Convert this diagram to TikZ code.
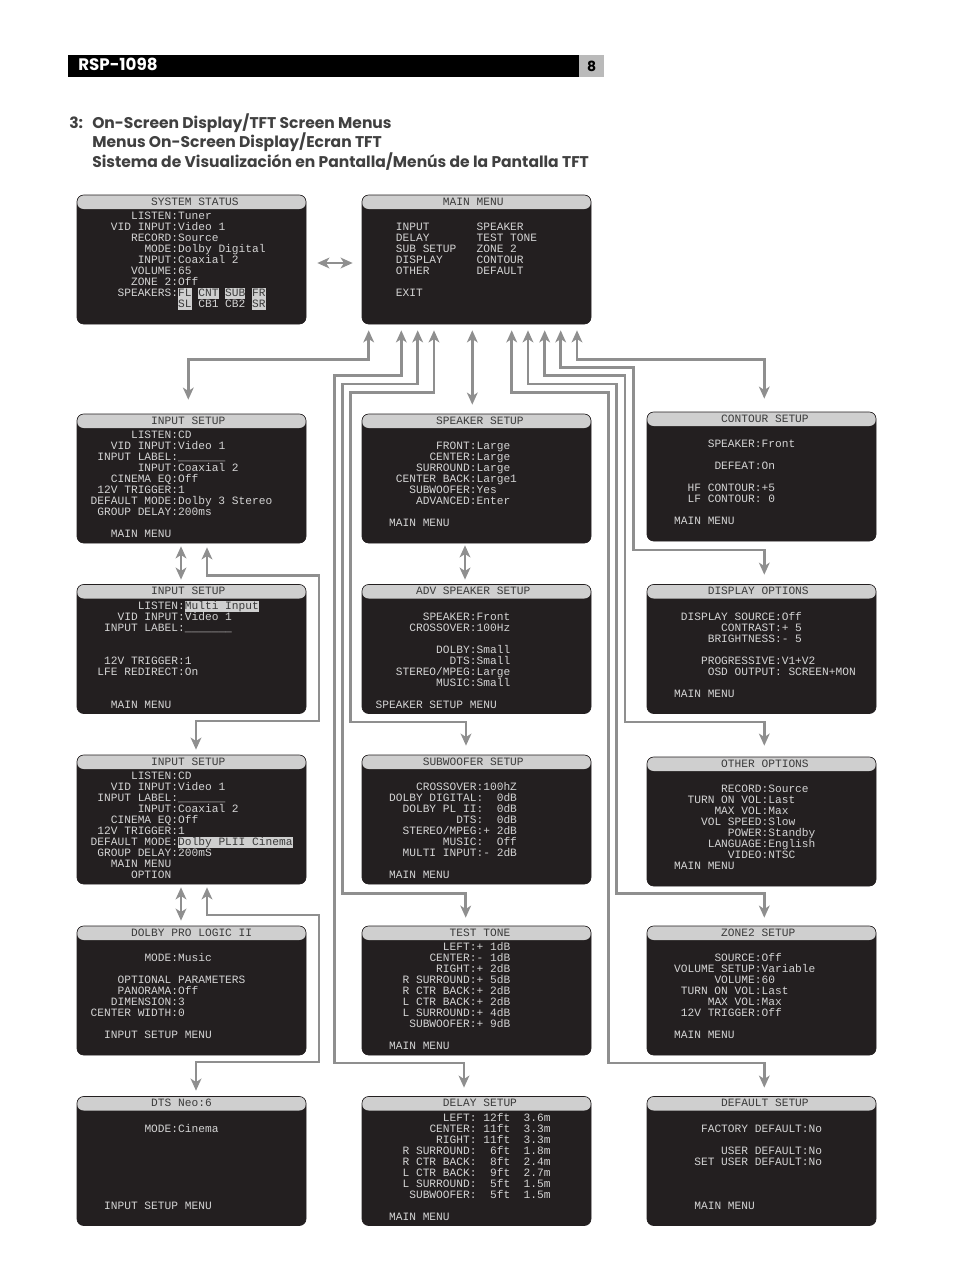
\documentclass[tikz,border=0pt]{standalone}
\usepackage{fontspec}
\usetikzlibrary{arrows.meta}
\newfontfamily\lcdfont{Liberation Mono}
\newfontfamily\headfont{Poppins}
\definecolor{menudark}{HTML}{231F20}
\definecolor{menuband}{HTML}{CFCFCF}
\definecolor{menutext}{HTML}{D4D4D4}
\definecolor{menuink}{HTML}{3A3A3A}
\definecolor{linkgrey}{HTML}{8F8F8F}
\definecolor{headgrey}{HTML}{404040}
\newcommand{\menumark}[1]{\smash{\setlength{\fboxsep}{0pt}\colorbox{menuband}{\color{menuink}\rule[-2pt]{0pt}{8.25pt}#1}}}
\newcommand{\menutop}{\rule{0pt}{6pt}}
\tikzset{
  menubox/.style={draw=menudark, line width=.5pt, fill=menudark, rounded corners=5pt, inner sep=0pt,
    minimum width=171.75pt, minimum height=96.75pt,
    path picture={\fill[menuband] (path picture bounding box.north west) rectangle ([yshift=-10.5pt]path picture bounding box.north east);}},
  menutitle/.style={anchor=west, inner sep=0pt, text=menuink, font=\lcdfont\fontsize{8.41}{8.25}\selectfont},
  menulines/.style={anchor=north west, inner sep=0pt, align=left, text=menutext,
    font=\lcdfont\fontsize{8.41}{8.25}\selectfont},
  menulink/.style={draw=linkgrey, line width=2pt, <->, >={Stealth[length=9pt,width=8pt,inset=2.5pt]}},
  headline/.style={anchor=west, inner sep=0pt, text=headgrey, font=\headfont\bfseries\fontsize{11.65}{12}\selectfont}
}
\begin{document}
\begin{tikzpicture}[x=.75pt, y=-.75pt]
\useasboundingbox (0,0) rectangle (954,1272);
%% Page header
	\node[fill=black, minimum width=383.25pt, minimum height=16.5pt, inner sep=0pt, anchor=north west] (headbar) at (68,55) {};
	\node[fill=menuband!90!black, minimum width=18.75pt, minimum height=16.5pt, inner sep=0pt, anchor=north west] (pagebox) at (579,55) {};
	\node[inner sep=0pt, anchor=west, text=white, font=\headfont\bfseries\fontsize{12.5}{14}\selectfont] (model) at (78,64.5) {RSP-1098};
	\node[inner sep=0pt, font=\headfont\bfseries\fontsize{10.5}{12}\selectfont] (pagenum) at (pagebox.center) {8};
	\node[headline] (headnum) at (69,123) {3:};
	\node[headline] (headen) at (92,123) {On-Screen Display/TFT Screen Menus};
	\node[headline] (headfr) at (92,142) {Menus On-Screen Display/Ecran TFT};
	\node[headline] (heades) at (92,162) {Sistema de Visualización en Pantalla/Menús de la Pantalla TFT};
%% Screens
	\node[menubox] (sysstatus) at (191.5,259.5) {};
	\node[menutitle] (sysstatustitle) at ([xshift=10.3pt,yshift=-5.25pt]sysstatus.north west) {~~~~~~~~~SYSTEM STATUS};
	\node[menulines] (sysstatuslines) at ([xshift=10.3pt,yshift=-12.5pt]sysstatus.north west) {\menutop
~~~~~~LISTEN:Tuner\\ ~~~VID INPUT:Video 1\\ ~~~~~~RECORD:Source\\ ~~~~~~~~MODE:Dolby Digital\\ ~~~~~~~INPUT:Coaxial 2\\ ~~~~~~VOLUME:65\\ ~~~~~~ZONE 2:Off\\ ~~~~SPEAKERS:\menumark{FL} \menumark{CNT} \menumark{SUB} \menumark{FR}\\ ~~~~~~~~~~~~~\menumark{SL} CB1 CB2 \menumark{SR}};

	\node[menubox] (mainmenu) at (476.5,259.5) {};
	\node[menutitle] (mainmenutitle) at ([xshift=10.3pt,yshift=-5.25pt]mainmenu.north west) {~~~~~~~~~~MAIN MENU};
	\node[menulines] (mainmenulines) at ([xshift=10.3pt,yshift=-12.5pt]mainmenu.north west) {\menutop
~\\ ~~~INPUT~~~~~~~SPEAKER\\ ~~~DELAY~~~~~~~TEST TONE\\ ~~~SUB SETUP~~~ZONE 2\\ ~~~DISPLAY~~~~~CONTOUR\\ ~~~OTHER~~~~~~~DEFAULT\\ ~\\ ~~~EXIT};

	\node[menubox] (inputa) at (191.5,478.5) {};
	\node[menutitle] (inputatitle) at ([xshift=10.3pt,yshift=-5.25pt]inputa.north west) {~~~~~~~~~INPUT SETUP};
	\node[menulines] (inputalines) at ([xshift=10.3pt,yshift=-12.5pt]inputa.north west) {\menutop
~~~~~~LISTEN:CD\\ ~~~VID INPUT:Video 1\\ ~INPUT LABEL:\_\_\_\_\_\_\_\\ ~~~~~~~INPUT:Coaxial 2\\ ~~~CINEMA EQ:Off\\ ~12V TRIGGER:1\\ DEFAULT MODE:Dolby 3 Stereo\\ ~GROUP DELAY:200ms\\ ~\\ ~~~MAIN MENU};

	\node[menubox] (inputb) at (191.5,649) {};
	\node[menutitle] (inputbtitle) at ([xshift=10.3pt,yshift=-5.25pt]inputb.north west) {~~~~~~~~~INPUT SETUP};
	\node[menulines] (inputblines) at ([xshift=10.3pt,yshift=-12.5pt]inputb.north west) {\menutop
~~~~~~~LISTEN:\menumark{Multi Input}\\ ~~~~VID INPUT:Video 1\\ ~~INPUT LABEL:\_\_\_\_\_\_\_\\ ~\\ ~\\ ~~12V TRIGGER:1\\ ~LFE REDIRECT:On\\ ~\\ ~\\ ~~~MAIN MENU};

	\node[menubox] (inputc) at (191.5,819.5) {};
	\node[menutitle] (inputctitle) at ([xshift=10.3pt,yshift=-5.25pt]inputc.north west) {~~~~~~~~~INPUT SETUP};
	\node[menulines] (inputclines) at ([xshift=10.3pt,yshift=-12.5pt]inputc.north west) {\menutop
~~~~~~LISTEN:CD\\ ~~~VID INPUT:Video 1\\ ~INPUT LABEL:\_\_\_\_\_\_\_\\ ~~~~~~~INPUT:Coaxial 2\\ ~~~CINEMA EQ:Off\\ ~12V TRIGGER:1\\ DEFAULT MODE:\menumark{Dolby PLII Cinema}\\ ~GROUP DELAY:200mS\\ ~~~MAIN MENU\\ ~~~~~~OPTION};

	\node[menubox] (dolby) at (191.5,990.5) {};
	\node[menutitle] (dolbytitle) at ([xshift=10.3pt,yshift=-5.25pt]dolby.north west) {~~~~~~DOLBY PRO LOGIC II};
	\node[menulines] (dolbylines) at ([xshift=10.3pt,yshift=-12.5pt]dolby.north west) {\menutop
~\\ ~~~~~~~~MODE:Music\\ ~\\ ~~~~OPTIONAL PARAMETERS\\ ~~~~PANORAMA:Off\\ ~~~DIMENSION:3\\ CENTER WIDTH:0\\ ~\\ ~~INPUT SETUP MENU};

	\node[menubox] (dtsneo) at (191.5,1161) {};
	\node[menutitle] (dtsneotitle) at ([xshift=10.3pt,yshift=-5.25pt]dtsneo.north west) {~~~~~~~~~DTS Neo:6};
	\node[menulines] (dtsneolines) at ([xshift=10.3pt,yshift=-12.5pt]dtsneo.north west) {\menutop
~\\ ~~~~~~~~MODE:Cinema\\ ~\\ ~\\ ~\\ ~\\ ~\\ ~\\ ~~INPUT SETUP MENU};

	\node[menubox] (speaker) at (476.5,478.5) {};
	\node[menutitle] (speakertitle) at ([xshift=10.3pt,yshift=-5.25pt]speaker.north west) {~~~~~~~~~SPEAKER SETUP};
	\node[menulines] (speakerlines) at ([xshift=10.3pt,yshift=-12.5pt]speaker.north west) {\menutop
~\\ ~~~~~~~~~FRONT:Large\\ ~~~~~~~~CENTER:Large\\ ~~~~~~SURROUND:Large\\ ~~~CENTER BACK:Large1\\ ~~~~~SUBWOOFER:Yes\\ ~~~~~~ADVANCED:Enter\\ ~\\ ~~MAIN MENU};

	\node[menubox] (advspeaker) at (476.5,649) {};
	\node[menutitle] (advspeakertitle) at ([xshift=10.3pt,yshift=-5.25pt]advspeaker.north west) {~~~~~~ADV SPEAKER SETUP};
	\node[menulines] (advspeakerlines) at ([xshift=10.3pt,yshift=-12.5pt]advspeaker.north west) {\menutop
~\\ ~~~~~~~SPEAKER:Front\\ ~~~~~CROSSOVER:100Hz\\ ~\\ ~~~~~~~~~DOLBY:Small\\ ~~~~~~~~~~~DTS:Small\\ ~~~STEREO/MPEG:Large\\ ~~~~~~~~~MUSIC:Small\\ ~\\ SPEAKER SETUP MENU};

	\node[menubox] (subwoofer) at (476.5,819.5) {};
	\node[menutitle] (subwoofertitle) at ([xshift=10.3pt,yshift=-5.25pt]subwoofer.north west) {~~~~~~~SUBWOOFER SETUP};
	\node[menulines] (subwooferlines) at ([xshift=10.3pt,yshift=-12.5pt]subwoofer.north west) {\menutop
~\\ ~~~~~~CROSSOVER:100hZ\\ ~~DOLBY DIGITAL:~~0dB\\ ~~~~DOLBY PL II:~~0dB\\ ~~~~~~~~~~~~DTS:~~0dB\\ ~~~~STEREO/MPEG:+ 2dB\\ ~~~~~~~~~~MUSIC:~~Off\\ ~~~~MULTI INPUT:- 2dB\\ ~\\ ~~MAIN MENU};

	\node[menubox] (testtone) at (476.5,990.5) {};
	\node[menutitle] (testtonetitle) at ([xshift=10.3pt,yshift=-5.25pt]testtone.north west) {~~~~~~~~~~~TEST TONE};
	\node[menulines] (testtonelines) at ([xshift=10.3pt,yshift=-12.5pt]testtone.north west) {\menutop
~~~~~~~~~~LEFT:+ 1dB\\ ~~~~~~~~CENTER:- 1dB\\ ~~~~~~~~~RIGHT:+ 2dB\\ ~~~~R SURROUND:+ 5dB\\ ~~~~R CTR BACK:+ 2dB\\ ~~~~L CTR BACK:+ 2dB\\ ~~~~L SURROUND:+ 4dB\\ ~~~~~SUBWOOFER:+ 9dB\\ ~\\ ~~MAIN MENU};

	\node[menubox] (delay) at (476.5,1161) {};
	\node[menutitle] (delaytitle) at ([xshift=10.3pt,yshift=-5.25pt]delay.north west) {~~~~~~~~~~DELAY SETUP};
	\node[menulines] (delaylines) at ([xshift=10.3pt,yshift=-12.5pt]delay.north west) {\menutop
~~~~~~~~~~LEFT:~12ft~~3.6m\\ ~~~~~~~~CENTER:~11ft~~3.3m\\ ~~~~~~~~~RIGHT:~11ft~~3.3m\\ ~~~~R SURROUND:~~6ft~~1.8m\\ ~~~~R CTR BACK:~~8ft~~2.4m\\ ~~~~L CTR BACK:~~9ft~~2.7m\\ ~~~~L SURROUND:~~5ft~~1.5m\\ ~~~~~SUBWOOFER:~~5ft~~1.5m\\ ~\\ ~~MAIN MENU};

	\node[menubox] (contour) at (761.5,476.5) {};
	\node[menutitle] (contourtitle) at ([xshift=10.3pt,yshift=-5.25pt]contour.north west) {~~~~~~~~~CONTOUR SETUP};
	\node[menulines] (contourlines) at ([xshift=10.3pt,yshift=-12.5pt]contour.north west) {\menutop
~\\ ~~~~~~~SPEAKER:Front\\ ~\\ ~~~~~~~~DEFEAT:On\\ ~\\ ~~~~HF CONTOUR:+5\\ ~~~~LF CONTOUR: 0\\ ~\\ ~~MAIN MENU};

	\node[menubox] (display) at (761.5,649) {};
	\node[menutitle] (displaytitle) at ([xshift=10.3pt,yshift=-5.25pt]display.north west) {~~~~~~~DISPLAY OPTIONS};
	\node[menulines] (displaylines) at ([xshift=10.3pt,yshift=-12.5pt]display.north west) {\menutop
~\\ ~~~DISPLAY SOURCE:Off\\ ~~~~~~~~~CONTRAST:+ 5\\ ~~~~~~~BRIGHTNESS:- 5\\ ~\\ ~~~~~~PROGRESSIVE:V1+V2\\ ~~~~~~~OSD OUTPUT: SCREEN+MON\\ ~\\ ~~MAIN MENU};

	\node[menubox] (other) at (761.5,821.5) {};
	\node[menutitle] (othertitle) at ([xshift=10.3pt,yshift=-5.25pt]other.north west) {~~~~~~~~~OTHER OPTIONS};
	\node[menulines] (otherlines) at ([xshift=10.3pt,yshift=-12.5pt]other.north west) {\menutop
~\\ ~~~~~~~~~RECORD:Source\\ ~~~~TURN ON VOL:Last\\ ~~~~~~~~MAX VOL:Max\\ ~~~~~~VOL SPEED:Slow\\ ~~~~~~~~~~POWER:Standby\\ ~~~~~~~LANGUAGE:English\\ ~~~~~~~~~~VIDEO:NTSC\\ ~~MAIN MENU};

	\node[menubox] (zonetwo) at (761.5,990.5) {};
	\node[menutitle] (zonetwotitle) at ([xshift=10.3pt,yshift=-5.25pt]zonetwo.north west) {~~~~~~~~~ZONE2 SETUP};
	\node[menulines] (zonetwolines) at ([xshift=10.3pt,yshift=-12.5pt]zonetwo.north west) {\menutop
~\\ ~~~~~~~~SOURCE:Off\\ ~~VOLUME SETUP:Variable\\ ~~~~~~~~VOLUME:60\\ ~~~TURN ON VOL:Last\\ ~~~~~~~MAX VOL:Max\\ ~~~12V TRIGGER:Off\\ ~\\ ~~MAIN MENU};

	\node[menubox] (defaults) at (761.5,1161) {};
	\node[menutitle] (defaultstitle) at ([xshift=10.3pt,yshift=-5.25pt]defaults.north west) {~~~~~~~~~DEFAULT SETUP};
	\node[menulines] (defaultslines) at ([xshift=10.3pt,yshift=-12.5pt]defaults.north west) {\menutop
~\\ ~~~~~~FACTORY DEFAULT:No\\ ~\\ ~~~~~~~~~USER DEFAULT:No\\ ~~~~~SET USER DEFAULT:No\\ ~\\ ~\\ ~\\ ~~~~~MAIN MENU};
%% Links
	\draw[menulink, shorten <=8.25pt, shorten >=6.75pt] (sysstatus.east |- 0,263) -- (mainmenu.west |- 0,263);
	\draw[menulink, shorten <=4.5pt, shorten >=10.5pt] (mainmenu.south -| 368.7,0) |- (188.3,359.3) -- (inputa.north -| 188.3,0);
	\draw[menulink, shorten <=4.5pt, shorten >=6.4pt] (mainmenu.south -| 401.3,0) |- (334.3,375.7) |- (464,1063) -- (delay.north -| 464,0);
	\draw[menulink, shorten <=4.5pt, shorten >=6pt] (mainmenu.south -| 417.7,0) |- (342.3,384) |- (465.7,893.3) -- (testtone.north -| 465.7,0);
	\draw[menulink, shorten <=4.5pt, shorten >=6.75pt] (mainmenu.south -| 434,0) |- (350.7,392.3) |- (466,722) -- (subwoofer.north -| 466,0);
	\draw[menulink, shorten <=4.5pt, shorten >=6.75pt] (mainmenu.south -| 472.3,0) -- (speaker.north -| 472.3,0);
	\draw[menulink, shorten <=4.5pt, shorten >=6.4pt] (mainmenu.south -| 511.7,0) |- (608.3,392.3) |- (764.3,1063) -- (defaults.north -| 764.3,0);
	\draw[menulink, shorten <=4.5pt, shorten >=6pt] (mainmenu.south -| 528,0) |- (616.7,384) |- (764.3,893.3) -- (zonetwo.north -| 764.3,0);
	\draw[menulink, shorten <=4.5pt, shorten >=8.25pt] (mainmenu.south -| 544.7,0) |- (625,375.7) |- (764.3,722) -- (other.north -| 764.3,0);
	\draw[menulink, shorten <=4.5pt, shorten >=7.1pt] (mainmenu.south -| 560.7,0) |- (633.3,367.3) |- (764.3,550) -- (display.north -| 764.3,0);
	\draw[menulink, shorten <=4.5pt, shorten >=9.75pt] (mainmenu.south -| 577,0) |- (764.3,359.3) -- (contour.north -| 764.3,0);
	\draw[menulink, shorten <=1.5pt, shorten >=3.4pt] (speaker.south -| 465,0) -- (advspeaker.north -| 465,0);
	\draw[menulink, shorten <=2.25pt, shorten >=3.4pt] (inputa.south -| 181,0) -- (inputb.north -| 181,0);
	\draw[menulink, shorten <=2.25pt, shorten >=3.75pt] (inputc.south -| 181,0) -- (dolby.north -| 181,0);
	\draw[menulink, shorten <=3pt, shorten >=3.75pt] (inputa.south -| 207,0) |- (319,575.5) |- (196,721) -- (inputc.north -| 196,0);
	\draw[menulink, shorten <=2.25pt, shorten >=4.1pt] (inputc.south -| 207,0) |- (319,915) |- (196,1062) -- (dtsneo.north -| 196,0);
\end{tikzpicture}
\end{document}
